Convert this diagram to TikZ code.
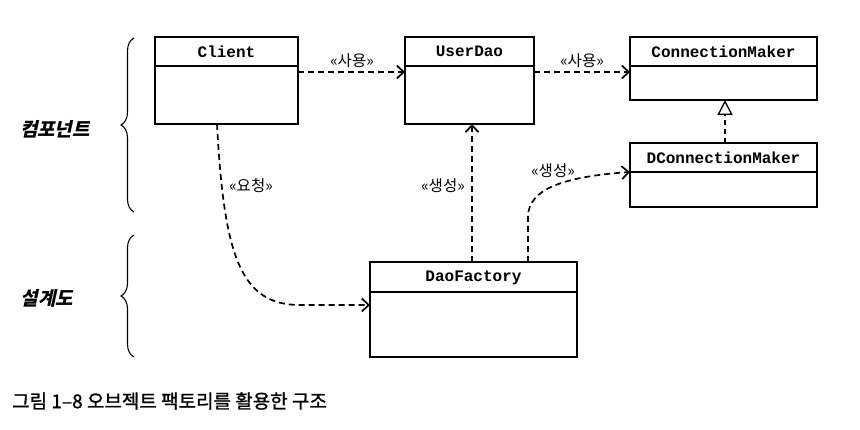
\documentclass[tikz,border=0pt]{standalone}
\usepackage{fontspec}
\setmonofont{Liberation Mono}
\newfontfamily\ko{Noto Sans CJK KR}
\newfontfamily\kocap[FakeBold=1.2]{Noto Sans CJK KR}
\newfontfamily\kosl[FakeSlant=0.22]{Noto Sans CJK KR}
\usetikzlibrary{arrows.meta,decorations.pathreplacing}
\tikzset{
  umlbox/.style={draw, line width=1.3pt, inner sep=0pt, outer sep=0pt, anchor=north west},
  divider/.style={line width=1.3pt},
  cls/.style={font=\fontsize{16}{16}\selectfont\ttfamily\bfseries, inner sep=0pt},
  dep/.style={line width=1.7pt, dash pattern=on 6pt off 4pt, -{Straight Barb[length=7pt,width=13pt,line width=1.7pt]}},
  lbl/.style={font=\fontsize{15.5}{16}\selectfont\ko, inner sep=1pt},
  side/.style={font=\fontsize{19}{19}\selectfont\kosl\bfseries, inner sep=0pt},
  bracestyle/.style={line width=1.1pt, decorate, decoration={brace, amplitude=13pt}},
}
\begin{document}
\begin{tikzpicture}[x=1pt,y=-1pt]
\useasboundingbox (0,0) rectangle (860,430);

% boxes
\node[umlbox, minimum width=143pt, minimum height=87pt] (client) at (155,37) {};
\node[umlbox, minimum width=129pt, minimum height=87pt] (userdao) at (405,37) {};
\node[umlbox, minimum width=187pt, minimum height=63pt] (cmaker) at (630,37) {};
\node[umlbox, minimum width=187pt, minimum height=64pt] (dcmaker) at (630,143) {};
\node[umlbox, minimum width=207pt, minimum height=95pt] (dao) at (370,262) {};

\foreach \b/\h in {client/29, userdao/29, cmaker/29, dcmaker/29, dao/30}{
  \draw[divider] ([yshift=-\h pt]\b.north west) -- ([yshift=-\h pt]\b.north east);
}
\node[cls] at ([yshift=-14.5pt]client.north) {Client};
\node[cls] at ([yshift=-14.5pt]userdao.north) {UserDao};
\node[cls] at ([yshift=-14.5pt]cmaker.north) {ConnectionMaker};
\node[cls] at ([yshift=-14.5pt]dcmaker.north) {DConnectionMaker};
\node[cls] at ([yshift=-16pt]dao.north) {DaoFactory};

% connectors
\draw[dep] ([yshift=-35pt]client.north east) -- ([yshift=-35pt]userdao.north west);
\draw[dep] ([yshift=-35pt]userdao.north east) -- ([yshift=-35pt]cmaker.north west);
\draw[line width=1.5pt, dash pattern=on 5pt off 4pt, -{Triangle[open, length=15pt, width=15pt, line width=1.3pt]}]
  ([xshift=95pt]dcmaker.north west) -- ([xshift=95pt]cmaker.south west);
\draw[dep] ([xshift=62pt]client.south west) .. controls (224,255) and (240,305) .. (300,305) -- ([yshift=-43pt]dao.north west);
\draw[dep] ([xshift=102pt]dao.north west) -- ([xshift=67pt]userdao.south west);
\draw[dep] ([xshift=158pt]dao.north west) -- (528,215) .. controls (530,190) and (560,177) .. ([yshift=-29pt]dcmaker.north west);

% labels
\node[lbl] at (352,61) {«사용»};
\node[lbl] at (582,61) {«사용»};
\node[lbl] at (251,186) {«요청»};
\node[lbl] at (443,186) {«생성»};
\node[lbl] at (553,171) {«생성»};

% braces
\draw[bracestyle] (134,212) -- (134,38);
\draw[bracestyle] (134,357) -- (134,235);
\node[side] at (55,129) {컴포넌트};
\node[side] at (47,298) {설계도};

% caption
\node[font=\fontsize{19}{19}\selectfont\kocap, anchor=west, inner sep=0pt] (cap) at (12,401) {그림 1–8 오브젝트 팩토리를 활용한 구조};
\end{tikzpicture}
\end{document}
